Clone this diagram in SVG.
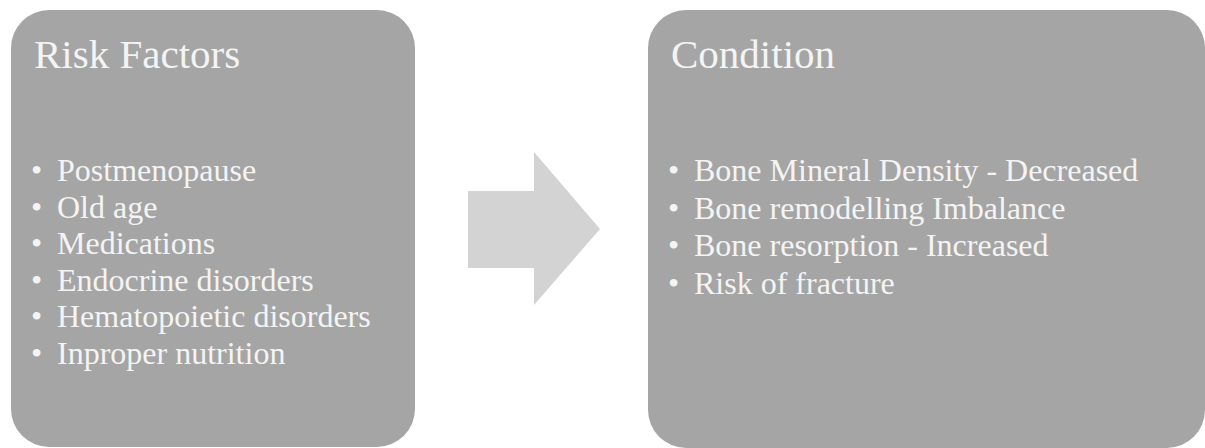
<svg xmlns="http://www.w3.org/2000/svg" width="1205" height="448" viewBox="0 0 1205 448">
  <style>
    .box { fill: #a5a5a5; }
    .title { font-family: "Liberation Serif", "Times New Roman", serif; font-size: 41px; fill: #f4f4f4; }
    .item { font-family: "Liberation Serif", "Times New Roman", serif; font-size: 32px; fill: #f4f4f4; }
    .arrow { fill: #d3d3d3; }
  </style>
  <rect width="1205" height="448" fill="#ffffff"/>
  <g id="risk-factors">
    <rect class="box" x="11" y="10" width="404" height="437" rx="38" ry="38"/>
    <text class="title" x="34" y="68">Risk Factors</text>
    <text class="item" x="31" y="181">•</text><text class="item" x="57" y="181">Postmenopause</text>
    <text class="item" x="31" y="217.6">•</text><text class="item" x="57" y="217.6">Old age</text>
    <text class="item" x="31" y="254.2">•</text><text class="item" x="57" y="254.2">Medications</text>
    <text class="item" x="31" y="290.8">•</text><text class="item" x="57" y="290.8">Endocrine disorders</text>
    <text class="item" x="31" y="327.4">•</text><text class="item" x="57" y="327.4">Hematopoietic disorders</text>
    <text class="item" x="31" y="364">•</text><text class="item" x="57" y="364">Inproper nutrition</text>
  </g>
  <g id="connectors">
    <polygon class="arrow" points="468,191 534,191 534,152 600,229 534,305 534,268 468,268"/>
  </g>
  <g id="condition">
    <rect class="box" x="648" y="10" width="557" height="438" rx="38" ry="38"/>
    <text class="title" x="671" y="68">Condition</text>
    <text class="item" x="668" y="181">•</text><text class="item" x="694" y="181">Bone Mineral Density - Decreased</text>
    <text class="item" x="668" y="218.5">•</text><text class="item" x="694" y="218.5">Bone remodelling Imbalance</text>
    <text class="item" x="668" y="256">•</text><text class="item" x="694" y="256">Bone resorption - Increased</text>
    <text class="item" x="668" y="293.5">•</text><text class="item" x="694" y="293.5">Risk of fracture</text>
  </g>
</svg>
